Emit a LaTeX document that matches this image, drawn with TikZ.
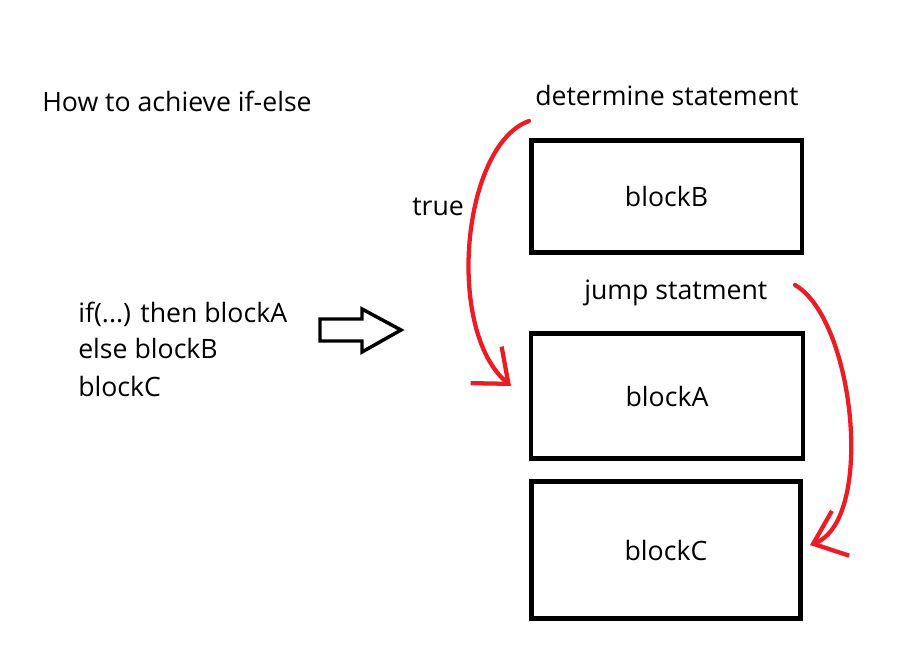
\documentclass[tikz,border=0pt]{standalone}
\usepackage{fontspec}
\setmainfont{Open Sans}
\usepackage{xcolor}
\usetikzlibrary{arrows.meta, positioning}
\definecolor{paintred}{RGB}{237,28,36}
\tikzset{
  blockbox/.style={draw, line width=3.5pt, minimum width=#1},
  redline/.style={paintred, line width=3.2pt, line cap=round, line join=round, -{Straight Barb[length=22pt, width=36pt, line width=3.2pt]}},
  txt/.style={inner sep=0pt, font=\fontsize{20pt}{28pt}\selectfont}
}
\begin{document}
\begin{tikzpicture}[x=0.75pt, y=-0.75pt]
      \useasboundingbox(0,0) rectangle (907,651);
      \node[txt, anchor=base west](title) at (42,111.7){How to achieve if-else};
      \node[txt, anchor=base west](ifLine) at (78,322){if(...) then blockA};
      \node[txt, anchor=base west](elseLine) at (78,358.5){else blockB};
      \node[txt, anchor=base west](cLine) at (78,396){blockC};
      % the three blocks
      \node[txt, blockbox=203pt, minimum height=84pt](blockB) at (666.5,196.5){blockB};
      \node[txt, blockbox=204pt, minimum height=93.75pt](blockA) at (667,396){blockA};
      \node[txt, blockbox=202pt, minimum height=102.5pt](blockC) at (666,550){blockC};
      \node[txt, anchor=base west](determine) at (535,105.7){determine statement};
      \node[txt, anchor=base west](jump) at (584,299.3){jump statment};
      \node[txt, anchor=base west](true) at (412,215){true};
      % hollow arrow
      \draw[line width=2.6pt, line join=miter](320,319)--(362,319)--(362,309)--(401,330)--(362,352)--(362,341)--(320,341)--cycle;
      % jumps
      \coordinate(trueStart) at (529,121);
      \coordinate(trueEnd) at (511,386);
      \coordinate(jumpStart) at (795,285);
      \coordinate(jumpEnd) at (810,545);
      \draw[redline](trueStart) .. controls (462,145) and (445,330) .. (trueEnd);
      \draw[redline](jumpStart) .. controls (855,320) and (875,520) .. (jumpEnd);
    \end{tikzpicture}
\end{document}
